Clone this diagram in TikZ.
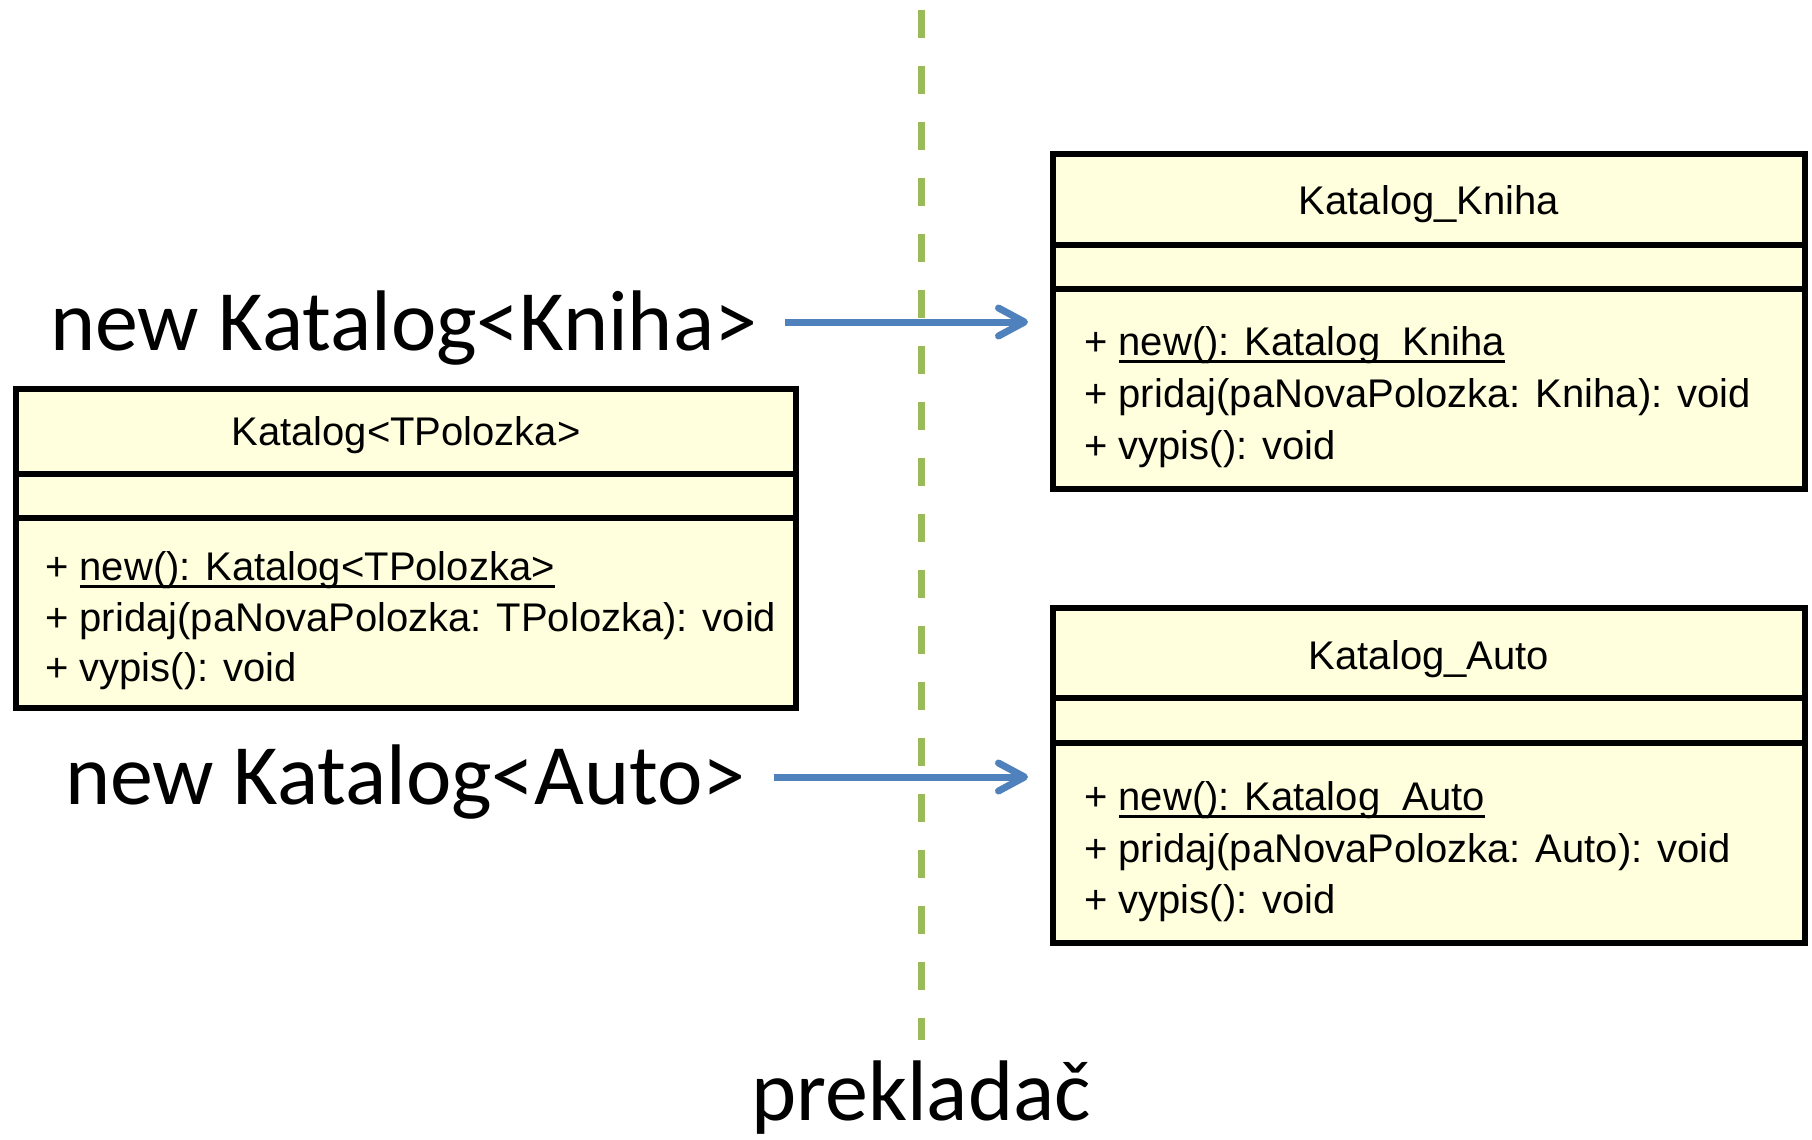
\documentclass[tikz,border=0pt]{standalone}
\usepackage{fontspec}
\setmainfont{Carlito}
\newfontfamily\umlfont{Liberation Sans}
\usepackage{tikz}
\usetikzlibrary{arrows.meta, positioning}
\usepackage{xcolor}
\definecolor{umlfill}{RGB}{255,255,221}
\definecolor{arrowblue}{RGB}{79,129,189}
\definecolor{sepgreen}{RGB}{155,187,89}
\newcommand{\staticop}[1]{\setbox0\hbox{#1}\rlap{\rule[-7.5pt]{\wd0}{3pt}}\box0}

\begin{document}
\begin{tikzpicture}[x=1pt, y=-1pt,
  classbox/.style={draw, line width=6pt, fill=umlfill, inner sep=0pt},
  classline/.style={line width=6pt},
  umltext/.style={font=\umlfont\fontsize{40}{48}\selectfont, inner sep=0pt},
  bigtext/.style={font=\fontsize{86}{100}\selectfont, inner sep=0pt},
  convert/.style={draw=arrowblue, line width=7pt, -{Straight Barb[length=26pt, width=28pt, round]}},
  compilerline/.style={draw=sepgreen, line width=7pt, dash pattern=on 28pt off 28pt}]
  \useasboundingbox (0,0) rectangle (1812,1140);

  % compiler boundary
  \coordinate (sepTop) at (921,10);
  \coordinate (sepBottom) at (921,1040);
  \draw[compilerline] (sepTop) -- (sepBottom);
  \node[bigtext, anchor=base] (compiler) at (921,1120) {prekladač};

  % generic class
  \node[classbox, minimum width=780pt, minimum height=319pt] (tpl) at (406,548.5) {};
  \draw[classline] (tpl.west |- 0,474) -- (tpl.east |- 0,474);
  \draw[classline] (tpl.west |- 0,518) -- (tpl.east |- 0,518);
  \node[umltext, anchor=base] (tplName) at (tpl.center |- 0,445) {Katalog<TPolozka>};
  \node[umltext, anchor=base west] (tplNew) at (45,580) {+ \staticop{new(): Katalog<TPolozka>}};
  \node[umltext, anchor=base west] (tplAdd) at (45,631) {+ pridaj(paNovaPolozka: TPolozka): void};
  \node[umltext, anchor=base west] (tplList) at (45,681) {+ vypis(): void};

  % Katalog_Kniha
  \node[classbox, minimum width=752pt, minimum height=335pt] (kniha) at (1429,321.5) {};
  \draw[classline] (kniha.west |- 0,245) -- (kniha.east |- 0,245);
  \draw[classline] (kniha.west |- 0,289) -- (kniha.east |- 0,289);
  \node[umltext, anchor=base] (knihaName) at (kniha.center |- 0,214) {Katalog\_Kniha};
  \node[umltext, anchor=base west] (knihaNew) at (1084,355) {+ \staticop{new(): Katalog\_Kniha}};
  \node[umltext, anchor=base west] (knihaAdd) at (1084,407) {+ pridaj(paNovaPolozka: Kniha): void};
  \node[umltext, anchor=base west] (knihaList) at (1084,459) {+ vypis(): void};

  % Katalog_Auto
  \node[classbox, minimum width=752pt, minimum height=335pt] (auto) at (1429,775.5) {};
  \draw[classline] (auto.west |- 0,698) -- (auto.east |- 0,698);
  \draw[classline] (auto.west |- 0,743) -- (auto.east |- 0,743);
  \node[umltext, anchor=base] (autoName) at (auto.center |- 0,669) {Katalog\_Auto};
  \node[umltext, anchor=base west] (autoNew) at (1084,810) {+ \staticop{new(): Katalog\_Auto}};
  \node[umltext, anchor=base west] (autoAdd) at (1084,862) {+ pridaj(paNovaPolozka: Auto): void};
  \node[umltext, anchor=base west] (autoList) at (1084,913) {+ vypis(): void};

  % instantiations
  \node[bigtext, anchor=base west] (newKniha) at (50,350) {new Katalog<Kniha>};
  \node[bigtext, anchor=base west] (newAuto) at (65,804) {new Katalog<Auto>};
  \coordinate (knihaFrom) at ([xshift=28pt, yshift=28pt]newKniha.base east);
  \coordinate (autoFrom) at ([xshift=28pt, yshift=27pt]newAuto.base east);
  \draw[convert, shorten >=22pt] (knihaFrom) -- (knihaFrom -| kniha.west);
  \draw[convert, shorten >=22pt] (autoFrom) -- (autoFrom -| auto.west);
\end{tikzpicture}
\end{document}
